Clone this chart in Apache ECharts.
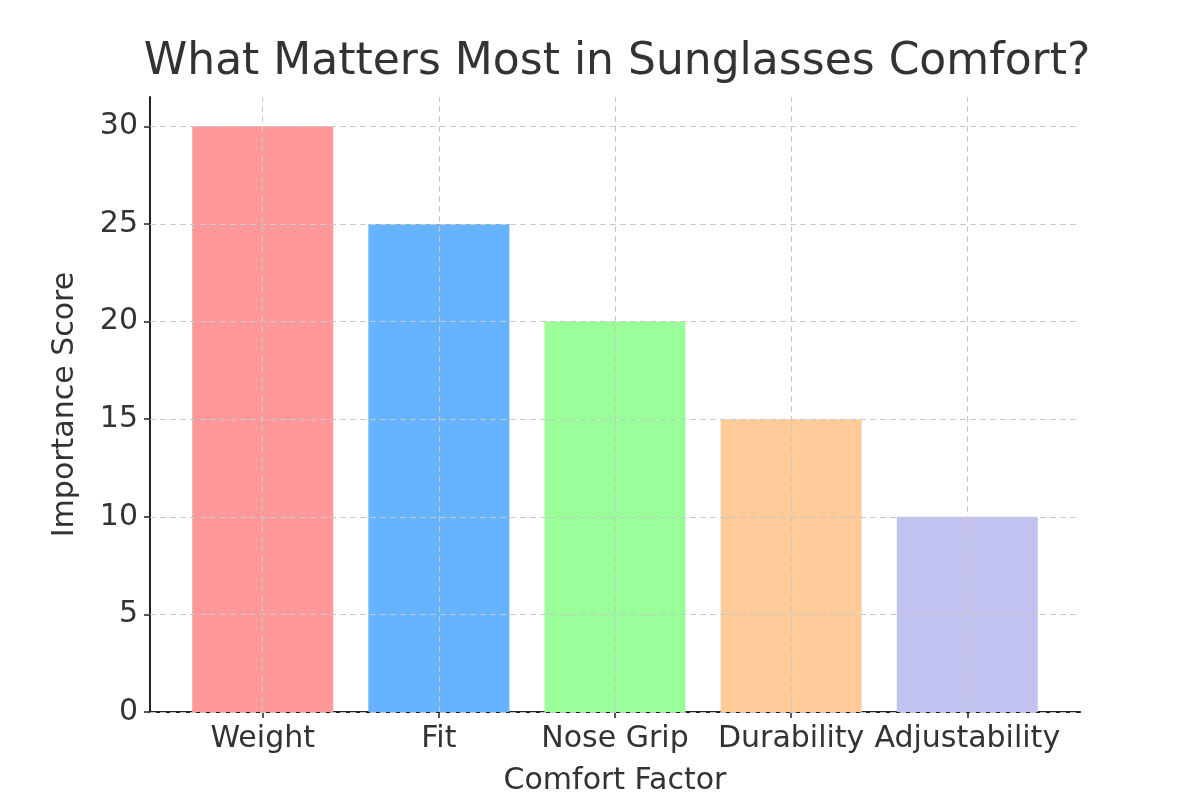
<!DOCTYPE html>
<html><head><meta charset="utf-8">
<script src="https://cdn.jsdelivr.net/npm/echarts@6/dist/echarts.min.js"></script>
<style>html,body{margin:0;background:#fff}#c{width:1200px;height:801px}</style>
</head><body><div id="c"></div>
<script>
var categories = ['Weight', 'Fit', 'Nose Grip', 'Durability', 'Adjustability'];
var scores = [30, 25, 20, 15, 10];
var colors = ['#ff9999', '#66b3ff', '#99ff99', '#ffcc99', '#c2c2f0'];
var yTicks = [0, 5, 10, 15, 20, 25, 30];

var font = 'DejaVu Sans';
var gridLine = { color: '#c8c8c8', type: [6, 4], width: 1 };
var marks = [];
yTicks.forEach(function (v) { marks.push({ yAxis: v }); });
categories.forEach(function (c, i) { marks.push({ xAxis: i }); });

var chart = echarts.init(document.getElementById('c'));
chart.setOption({
    animation: false,
    title: { text: 'What Matters Most in Sunglasses Comfort?', left: 612, top: 36, textAlign: 'center',
        textStyle: { fontFamily: font, fontSize: 44, fontWeight: 'normal', color: '#333' } },
    grid: { left: 150, right: 120, top: 97, bottom: 88 },
    xAxis: {
        type: 'value', min: -0.64, max: 4.64,
        name: 'Comfort Factor', nameLocation: 'middle', nameGap: 54,
        nameTextStyle: { fontFamily: font, fontSize: 30, color: '#333' },
        axisLine: { show: true, onZero: false, lineStyle: { color: '#222', width: 2 } },
        axisTick: { show: true, customValues: [0, 1, 2, 3, 4], length: 6, lineStyle: { color: '#222', width: 1.5 } },
        axisLabel: { customValues: [0, 1, 2, 3, 4], margin: 12, fontFamily: font, fontSize: 30, color: '#333',
            formatter: function (v) { return categories[Math.round(v)]; } },
        splitLine: { show: false }
    },
    yAxis: {
        type: 'value', min: 0, max: 31.5,
        name: 'Importance Score', nameLocation: 'middle', nameGap: 70,
        nameTextStyle: { fontFamily: font, fontSize: 30, color: '#333' },
        axisLine: { show: true, onZero: false, lineStyle: { color: '#222', width: 2 } },
        axisTick: { show: true, customValues: yTicks, length: 6, lineStyle: { color: '#222', width: 1.5 } },
        axisLabel: { customValues: yTicks, margin: 12, fontFamily: font, fontSize: 30, color: '#333' },
        splitLine: { show: false }
    },
    series: [{
        type: 'bar', barWidth: 141,
        data: scores.map(function (v, i) { return { value: [i, v], itemStyle: { color: colors[i] } }; })
    }, {
        type: 'line', data: [], z: 1,
        markLine: { silent: true, symbol: 'none', label: { show: false }, lineStyle: gridLine, data: marks }
    }]
});
</script></body></html>
